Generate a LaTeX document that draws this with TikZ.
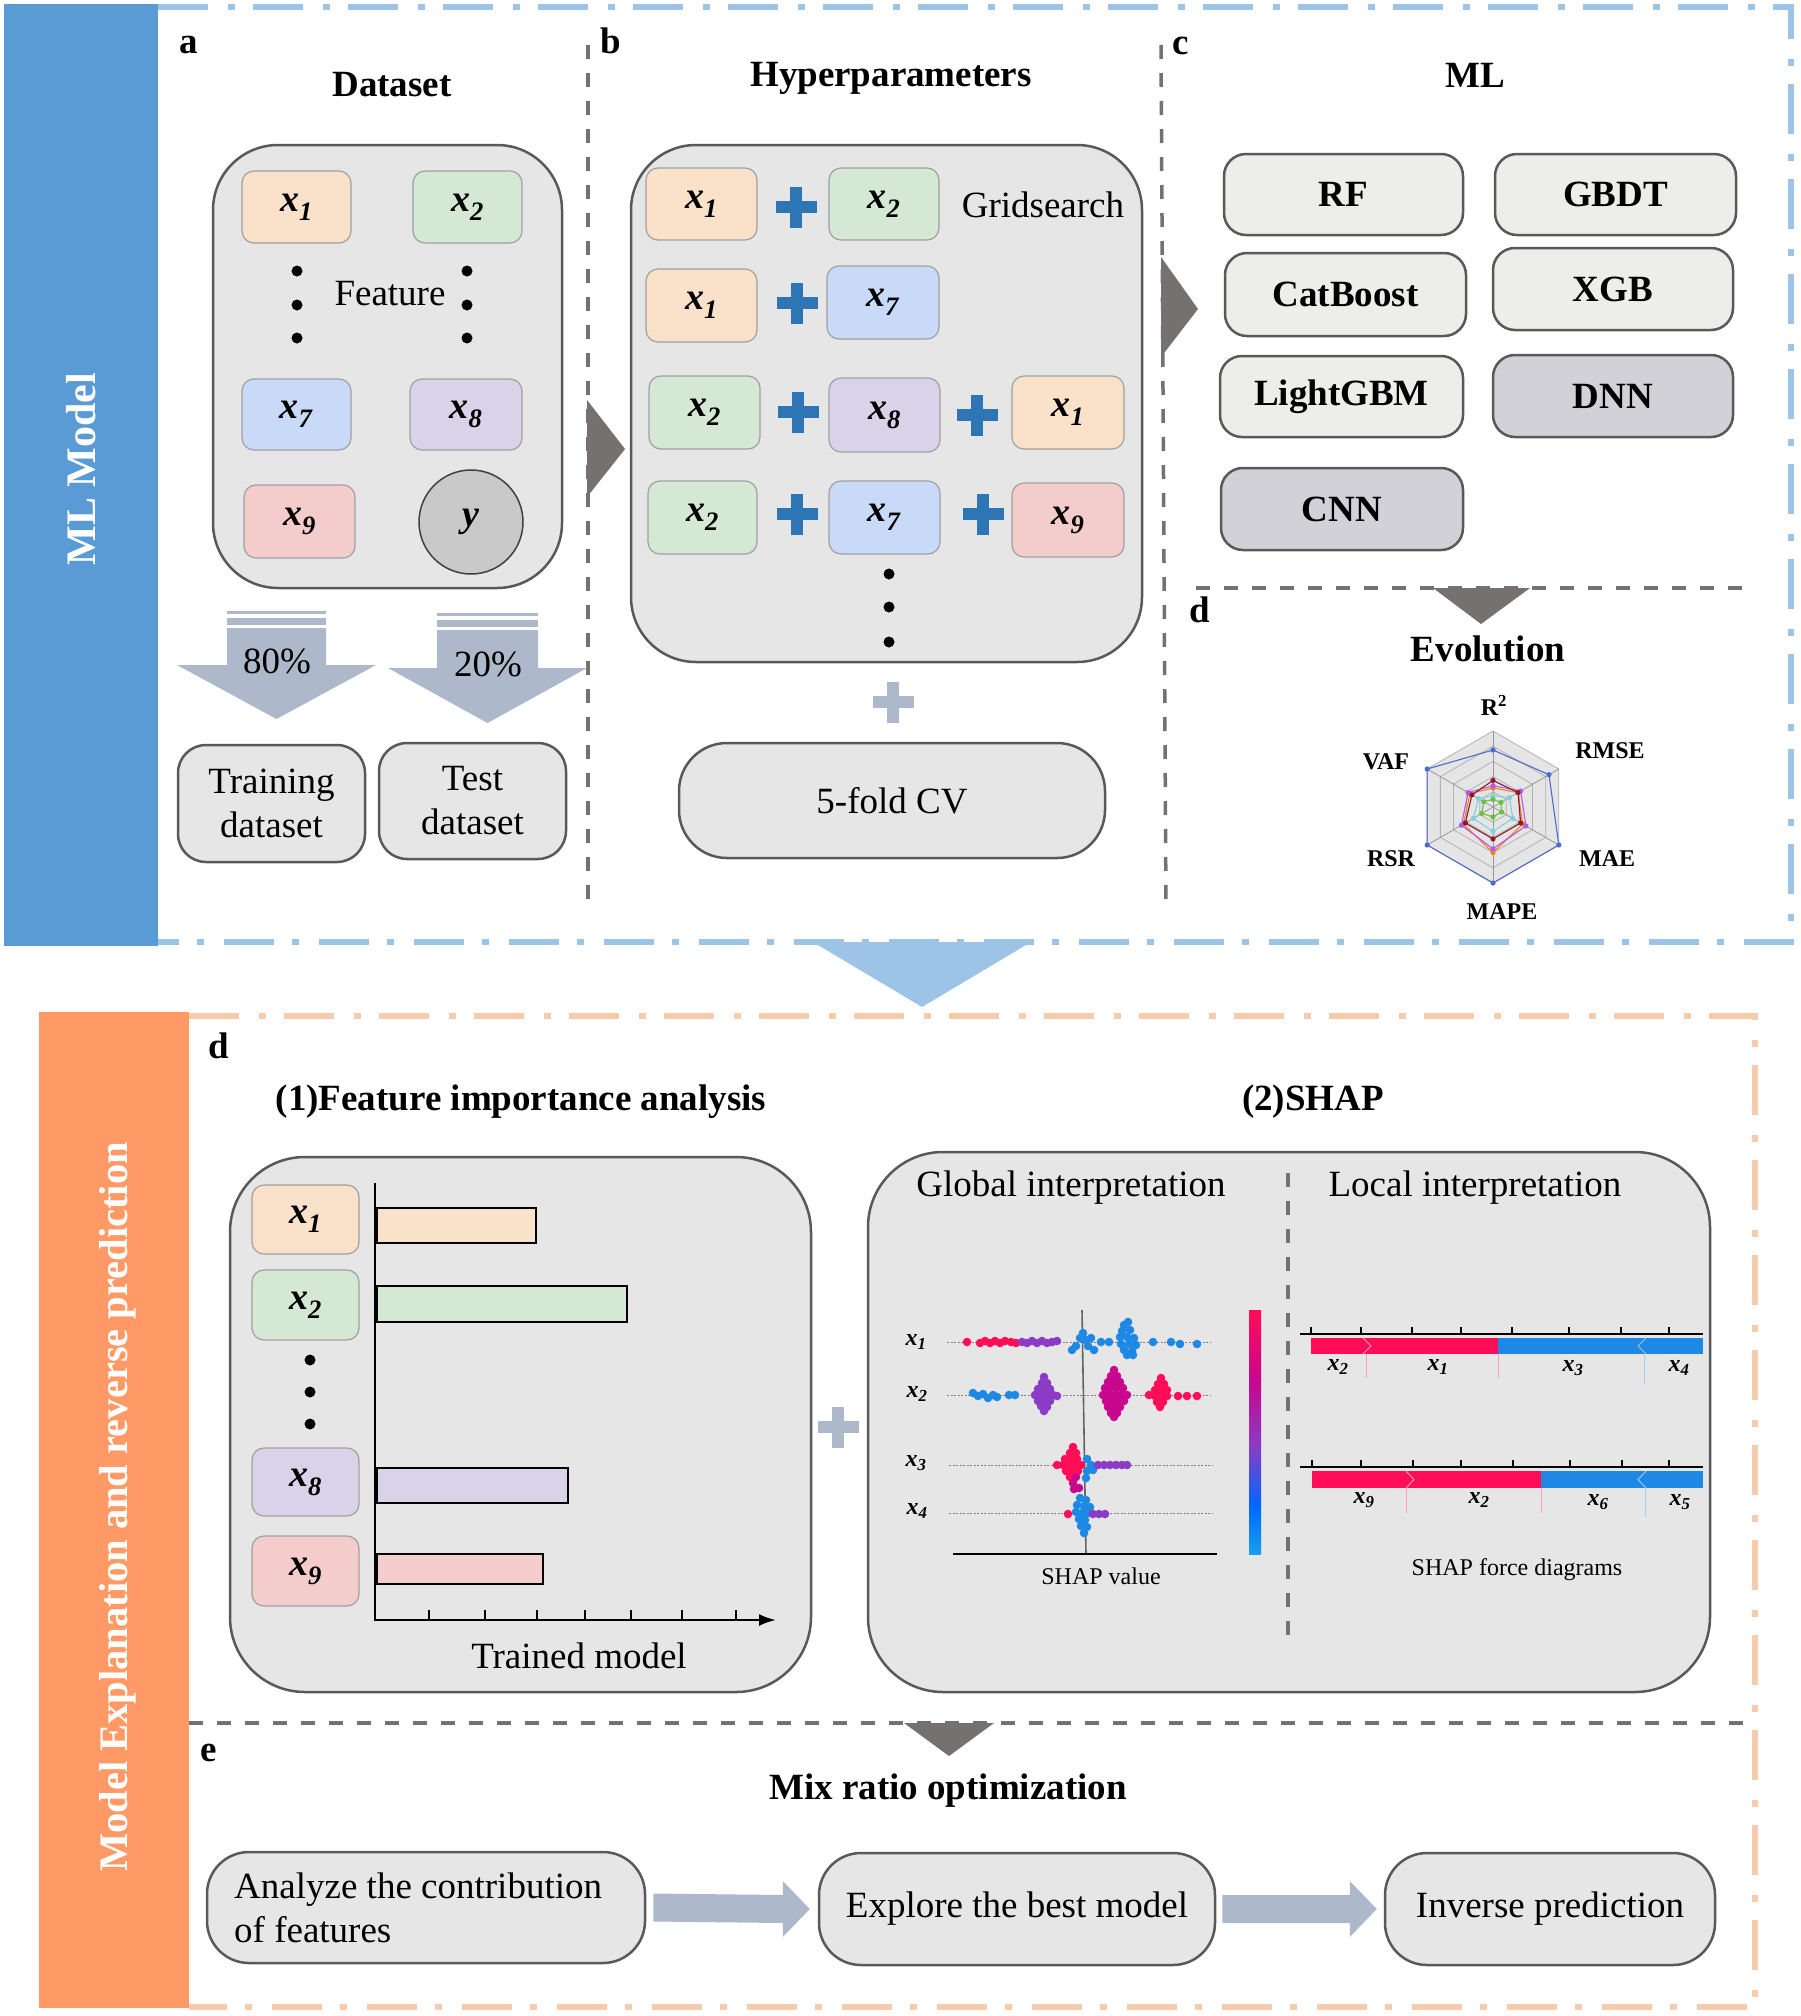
\documentclass[tikz,border=0pt]{standalone}
\usepackage{fontspec}
\setmainfont{Liberation Serif}
\usetikzlibrary{arrows.meta,calc}
\definecolor{mlblue}{HTML}{5B9BD5}
\definecolor{lblue}{HTML}{9DC3E6}
\definecolor{morange}{HTML}{FF9966}
\definecolor{lorange}{HTML}{F8CBAD}
\definecolor{boxgray}{HTML}{E7E6E6}
\definecolor{strokegray}{HTML}{595959}
\definecolor{featline}{HTML}{A0A0A0}
\definecolor{cA}{HTML}{F9E2C9}
\definecolor{cB}{HTML}{D5E8D4}
\definecolor{cG}{HTML}{C9DAF8}
\definecolor{cH}{HTML}{D9D2E9}
\definecolor{cI}{HTML}{F4CCCC}
\definecolor{plusblue}{HTML}{2E75B6}
\definecolor{arrowc}{HTML}{ADB9CA}
\definecolor{divgray}{HTML}{767171}
\definecolor{modlight}{HTML}{EDEDE9}
\definecolor{moddark}{HTML}{D3D1D8}
\definecolor{ycirc}{HTML}{C9C9C9}
\definecolor{shapred}{HTML}{FF0D57}
\definecolor{shapblue}{HTML}{1E88E5}
\definecolor{shapmag}{HTML}{C8068E}
\definecolor{shappur}{HTML}{8A3CC4}
\definecolor{rblue}{HTML}{4F6BC9}
\definecolor{rdred}{HTML}{8B1A2A}
\definecolor{rpurple}{HTML}{B45AE6}
\definecolor{rorange}{HTML}{F08020}
\definecolor{rcyan}{HTML}{7FD1E0}
\definecolor{rgreen}{HTML}{6DBE45}
\newcommand{\xs}[1]{\textbf{\textit{x}}\textsubscript{\textbf{\textit{#1}}}}
\newcommand{\rseries}[7]{%
  \draw[#1, line width=1.1pt] (90:#2*76) -- (30:#3*76) -- (-30:#4*76) -- (-90:#5*76) -- (-150:#6*76) -- (150:#7*76) -- cycle;
  \foreach \a/\v in {90/#2,30/#3,-30/#4,-90/#5,-150/#6,150/#7} \fill[#1] (\a:\v*76) circle (2.6);
}
\begin{document}
\begin{tikzpicture}[x=1pt,y=-1pt]
\tikzset{
 ttl/.style={font=\fontsize{37}{42}\selectfont\bfseries, inner sep=0pt},
 plbl/.style={font=\fontsize{37}{42}\selectfont\bfseries, anchor=base, inner sep=0pt},
 txt/.style={font=\fontsize{37}{44}\selectfont, inner sep=0pt},
 cont/.style={draw=strokegray, fill=boxgray, line width=2.5pt, inner sep=0pt},
 feat/.style={draw=featline, line width=1.2pt, rounded corners=12pt, inner sep=0pt, font=\fontsize{38}{40}\selectfont},
 model/.style={draw=strokegray, line width=2.5pt, rounded corners=22pt, inner sep=0pt, font=\fontsize{37}{40}\selectfont\bfseries},
 pill/.style={draw=strokegray, fill=boxgray, line width=2.5pt, inner sep=0pt, align=center, font=\fontsize{37}{44}\selectfont},
 divider/.style={draw=divgray, line width=3.5pt, dash pattern=on 14pt off 14pt},
 dashdot/.style={line width=6pt, dash pattern=on 50pt off 20pt on 7pt off 18pt},
 bar/.style={draw=black, line width=2.5pt},
 mini/.style={font=\fontsize{24}{26}\selectfont, inner sep=0pt},
 rlab/.style={font=\fontsize{24}{26}\selectfont\bfseries, inner sep=0pt},
 rowline/.style={draw=gray, line width=0.9pt, dash pattern=on 2pt off 1.5pt},
 plusmark/.pic={\fill (-20.5,-6) rectangle (20.5,6); \fill (-6,-20.5) rectangle (6,20.5);},
}
\useasboundingbox (0,0) rectangle (1800,2016);
\fill[white] (0,0) rectangle (1800,2016);

% ================= TOP SECTION =================
\fill[mlblue] (4,4) rectangle (158,946);
\draw[lblue, dashdot] (158,7) -- (1791,7) -- (1791,942) -- (158,942);
\node[rotate=90, text=white, font=\fontsize{42}{46}\selectfont\bfseries] (mltitle) at (81,469) {ML Model};
\fill[lblue] (813,942) -- (1031,942) -- (922,1007) -- cycle;

% dividers
\draw[divider] (588,45) -- (588,904);
\draw[divider] (1161,45) -- (1166,910);
\draw[divider] (1196,588) -- (1755,588);
\fill[divgray] (587,400) -- (625,449) -- (587,497) -- cycle;
\fill[divgray] (1161,257) -- (1198,309) -- (1161,357) -- cycle;
\fill[divgray] (1433,588) -- (1530,588) -- (1481,624) -- cycle;

% ---- a ----
\node[plbl] (la) at (189,53) {a};
\node[ttl] (tds) at (392,85) {Dataset};
\node[cont, rounded corners=65pt, minimum width=349pt, minimum height=443pt] (dsbox) at (387.5,366.5) {};
\node[feat, fill=cA, minimum width=109pt, minimum height=72pt] (a1) at (296.5,207) {\xs{1}};
\node[feat, fill=cB, minimum width=109pt, minimum height=72pt] (a2) at (467.5,207) {\xs{2}};
\node[feat, fill=cG, minimum width=109pt, minimum height=71pt] (a7) at (296.5,414.5) {\xs{7}};
\node[feat, fill=cH, minimum width=112pt, minimum height=71pt] (a8) at (466,414.5) {\xs{8}};
\node[feat, fill=cI, minimum width=111pt, minimum height=73pt] (a9) at (299.5,521.5) {\xs{9}};
\node[circle, draw=black!75, line width=1.5pt, fill=ycirc, minimum size=104pt, inner sep=0pt, font=\fontsize{38}{40}\selectfont] (ay) at (471,522) {\textbf{\textit{y}}};
\node[txt] (feattxt) at (390,294) {Feature};
\foreach \yy in {271,305,338} {\fill (297,\yy) circle (5.5); \fill (467,\yy) circle (5.5);}
% split arrows
\fill[arrowc] (227,611) rectangle (326,614);
\fill[arrowc] (227,618) rectangle (326,625);
\fill[arrowc] (227,628) -- (326,628) -- (326,665) -- (376,665) -- (276.5,719) -- (177,665) -- (227,665) -- cycle;
\node[txt] (p80) at (277,661) {80\%};
\fill[arrowc] (437,613) rectangle (538,616);
\fill[arrowc] (437,620) rectangle (538,627);
\fill[arrowc] (437,630) -- (538,630) -- (538,668) -- (587,668) -- (487.5,723) -- (388,668) -- (437,668) -- cycle;
\node[txt] (p20) at (488,664) {20\%};
\node[pill, rounded corners=28pt, minimum width=187pt, minimum height=117pt] (train) at (271.5,803.5) {Training\\dataset};
\node[pill, rounded corners=28pt, minimum width=187pt, minimum height=116pt] (test) at (472.5,801) {Test\\dataset};

% ---- b ----
\node[plbl] (lb) at (611,53) {b};
\node[ttl] (thp) at (891,78) {Hyperparameters};
\node[cont, rounded corners=65pt, minimum width=511pt, minimum height=517pt] (hpbox) at (886.5,403.5) {};
\node[feat, fill=cA, minimum width=111pt, minimum height=72pt] (b11) at (701.5,204) {\xs{1}};
\pic[fill=plusblue] at (796,207) {plusmark};
\node[feat, fill=cB, minimum width=110pt, minimum height=72pt] (b12) at (884,204) {\xs{2}};
\node[txt] (grid) at (1043,205) {Gridsearch};
\node[feat, fill=cA, minimum width=111pt, minimum height=73pt] (b21) at (701.5,305.5) {\xs{1}};
\pic[fill=plusblue] at (797,303) {plusmark};
\node[feat, fill=cG, minimum width=112pt, minimum height=73pt] (b22) at (883,302.5) {\xs{7}};
\node[feat, fill=cB, minimum width=111pt, minimum height=73pt] (b31) at (704.5,412.5) {\xs{2}};
\pic[fill=plusblue] at (798,412) {plusmark};
\node[feat, fill=cH, minimum width=111pt, minimum height=74pt] (b32) at (884.5,415) {\xs{8}};
\pic[fill=plusblue] at (977,415) {plusmark};
\node[feat, fill=cA, minimum width=112pt, minimum height=73pt] (b33) at (1068,412.5) {\xs{1}};
\node[feat, fill=cB, minimum width=109pt, minimum height=73pt] (b41) at (702.5,517.5) {\xs{2}};
\pic[fill=plusblue] at (797,514) {plusmark};
\node[feat, fill=cG, minimum width=111pt, minimum height=73pt] (b42) at (884.5,517.5) {\xs{7}};
\pic[fill=plusblue] at (983,514) {plusmark};
\node[feat, fill=cI, minimum width=112pt, minimum height=74pt] (b43) at (1068,520) {\xs{9}};
\foreach \yy in {574,607,642} \fill (889,\yy) circle (5.5);
\pic[fill=arrowc] at (893,702) {plusmark};
\node[pill, rounded corners=48pt, minimum width=426pt, minimum height=115pt] (cv) at (892,800.5) {5-fold CV};

% ---- c ----
\node[plbl] (lc) at (1181,54) {c};
\node[ttl] (tml) at (1475,75) {ML};
\node[model, fill=modlight, minimum width=239pt, minimum height=81pt] (rf) at (1343.5,194.5) {RF};
\node[model, fill=modlight, minimum width=241pt, minimum height=81pt] (gbdt) at (1615.5,194.5) {GBDT};
\node[model, fill=modlight, minimum width=241pt, minimum height=83pt] (cat) at (1345.5,294.5) {CatBoost};
\node[model, fill=modlight, minimum width=240pt, minimum height=82pt] (xgb) at (1613,289) {XGB};
\node[model, fill=modlight, minimum width=243pt, minimum height=81pt] (lgbm) at (1341.5,396.5) {LightGBM};
\node[model, fill=moddark, minimum width=240pt, minimum height=82pt] (dnn) at (1613,396) {DNN};
\node[model, fill=moddark, minimum width=242pt, minimum height=82pt] (cnn) at (1342,509) {CNN};

% ---- d (evolution) ----
\node[plbl] (ld1) at (1200,622) {d};
\node[ttl] (tev) at (1488,649) {Evolution};
\begin{scope}[shift={(1493,807)}, yscale=-1]
 \fill[black!10] (90:76) -- (30:76) -- (-30:76) -- (-90:76) -- (-150:76) -- (150:76) -- cycle;
 \foreach \r in {15.2,30.4,45.6,60.8,76}
   \draw[black!30, line width=0.8pt] (90:\r) -- (30:\r) -- (-30:\r) -- (-90:\r) -- (-150:\r) -- (150:\r) -- cycle;
 \foreach \a in {90,30,-30,-90,-150,150} \draw[black!40, line width=0.8pt] (0,0) -- (\a:76);
 \rseries{rblue}{0.75}{0.85}{1}{1}{1}{1}
 \rseries{rorange}{0.25}{0.38}{0.45}{0.6}{0.45}{0.35}
 \rseries{rpurple}{0.28}{0.42}{0.5}{0.55}{0.48}{0.38}
 \rseries{rdred}{0.35}{0.38}{0.42}{0.42}{0.42}{0.32}
 \rseries{rcyan}{0.15}{0.25}{0.3}{0.32}{0.3}{0.22}
 \rseries{rgreen}{0.1}{0.12}{0.13}{0.13}{0.17}{0.14}
\end{scope}
\node[rlab] (r2) at (1494,705) {R\textsuperscript{2}};
\node[rlab] (rmse) at (1610,751) {RMSE};
\node[rlab] (mae) at (1607,859) {MAE};
\node[rlab] (mape) at (1502,912) {MAPE};
\node[rlab] (rsr) at (1391,859) {RSR};
\node[rlab] (vaf) at (1386,762) {VAF};

% ================= BOTTOM SECTION =================
\fill[morange] (39,1012) rectangle (189,2008);
\draw[lorange, dashdot] (189,1016) -- (1755,1016) -- (1755,2007) -- (189,2007);
\node[rotate=90, text=white, font=\fontsize{40.5}{44}\selectfont\bfseries] (metitle) at (118,1507) {Model Explanation and reverse prediction};

\node[plbl] (ld2) at (219,1058) {d};
\node[ttl] (tfi) at (521,1102) {(1)Feature importance analysis};
\node[ttl] (tshap) at (1313,1102) {(2)SHAP};

% feature importance
\node[cont, rounded corners=75pt, minimum width=581pt, minimum height=535pt] (fibox) at (520.5,1424.5) {};
\node[feat, fill=cA, minimum width=107pt, minimum height=69pt] (f1) at (305.5,1219.5) {\xs{1}};
\node[feat, fill=cB, minimum width=107pt, minimum height=70pt] (f2) at (305.5,1305) {\xs{2}};
\node[feat, fill=cH, minimum width=107pt, minimum height=68pt] (f8) at (305.5,1482) {\xs{8}};
\node[feat, fill=cI, minimum width=107pt, minimum height=70pt] (f9) at (305.5,1571) {\xs{9}};
\foreach \yy in {1360,1392,1424} \fill (310,\yy) circle (5.5);
\draw[bar, fill=cA] (377,1208) rectangle (536,1243);
\draw[bar, fill=cB] (377,1286) rectangle (627,1322);
\draw[bar, fill=cH] (377,1468) rectangle (568,1503);
\draw[bar, fill=cI] (377,1554) rectangle (543,1584);
\draw[line width=2.5pt, -{Latex[length=17pt,width=12pt]}] (375,1183) -- (375,1620) -- (776,1620);
\foreach \t in {429,485,537,585,631,682,736} \draw[line width=2pt] (\t,1620) -- (\t,1610);
\node[txt] (trained) at (579,1656) {Trained model};

\pic[fill=arrowc] at (838,1427) {plusmark};

% SHAP
\node[cont, rounded corners=75pt, minimum width=842pt, minimum height=540pt] (shbox) at (1289,1422) {};
\draw[divider] (1288,1173) -- (1288,1648);
\node[txt] (glob) at (1071,1188) {Global interpretation};
\node[txt] (loc) at (1475,1188) {Local interpretation};

% summary plot
\draw[rowline] (947,1342) -- (1211,1342);
\draw[rowline] (947,1395) -- (1211,1395);
\draw[rowline] (949,1465) -- (1213,1465);
\draw[rowline] (949,1513) -- (1213,1513);
\draw[black!60, line width=1.6pt] (1082,1310) -- (1086,1554);
\draw[black, line width=1.8pt] (953,1554) -- (1217,1554);
\node[mini] (sx1) at (916,1342) {\xs{1}};
\node[mini] (sx2) at (917,1394) {\xs{2}};
\node[mini] (sx3) at (916,1463) {\xs{3}};
\node[mini] (sx4) at (917,1511) {\xs{4}};
% x1 row
\foreach \px/\py in {967/1342,980/1343,985/1341,990/1343,995/1341,1000/1343,1005/1341,1011/1342,1016/1343}
  \fill[shapred] (\px,\py) circle (4.3);
\foreach \px/\py in {1022/1342,1027/1343,1032/1341,1037/1343,1042/1341,1047/1343,1052/1342,1057/1341}
  \fill[shappur] (\px,\py) circle (4.3);
\foreach \px/\py in {1072/1350,1076/1346,1080/1338,1083/1333,1086/1340,1088/1346,1091/1338,1094/1350,1101/1342,1109/1342,
  1124/1325,1128/1322,1122/1331,1130/1330,1120/1337,1127/1337,1134/1338,1121/1344,1129/1344,1136/1345,1124/1350,1132/1351,1133/1355,1127/1355,
  1153/1342,1171/1342,1180/1344,1197/1344}
  \fill[shapblue] (\px,\py) circle (4.3);
% x2 row
\foreach \px/\py in {973/1393,978/1396,983/1394,988/1398,993/1395,997/1397,1009/1395,1015/1395}
  \fill[shapblue] (\px,\py) circle (4.3);
\foreach \px/\py in {1044/1377,1042/1383,1047/1383,1038/1389,1044/1389,1050/1389,1035/1395,1041/1395,1047/1395,1053/1395,1057/1396,1038/1401,1044/1401,1050/1401,1041/1406,1047/1407,1044/1411}
  \fill[shappur] (\px,\py) circle (4.3);
\foreach \px/\py in {1114/1370,1111/1376,1117/1376,1108/1382,1114/1382,1120/1382,1105/1388,1111/1388,1117/1388,1123/1388,1103/1395,1109/1395,1115/1395,1121/1395,1127/1395,1106/1401,1112/1401,1118/1401,1124/1401,1108/1407,1114/1407,1120/1407,1111/1413,1117/1413,1114/1417}
  \fill[shapmag] (\px,\py) circle (4.3);
\foreach \px/\py in {1161/1378,1158/1384,1164/1384,1155/1390,1161/1390,1167/1390,1149/1395,1155/1396,1161/1396,1167/1396,1157/1402,1163/1402,1160/1407,1178/1396,1187/1396,1197/1396}
  \fill[shapred] (\px,\py) circle (4.3);
% x3 row
\foreach \px/\py in {1073/1447,1070/1453,1076/1453,1065/1459,1071/1459,1077/1459,1057/1465,1063/1465,1069/1465,1075/1465,1081/1465,1066/1471,1072/1471,1078/1471,1070/1477}
  \fill[shapred] (\px,\py) circle (4.3);
\foreach \px/\py in {1076/1477,1073/1483,1079/1488,1074/1489}
  \fill[shapmag] (\px,\py) circle (4.3);
\foreach \px/\py in {1087/1459,1091/1465,1087/1471,1093/1470,1086/1478}
  \fill[shapblue] (\px,\py) circle (4.3);
\foreach \px in {1098,1104,1110,1116,1122,1127}
  \fill[shappur] (\px,1465) circle (4.3);
% x4 row
\fill[shapred] (1068,1514) circle (4.3);
\foreach \px/\py in {1080/1498,1086/1500,1077/1505,1084/1506,1090/1507,1076/1512,1082/1513,1088/1513,1079/1519,1085/1520,1081/1526,1087/1527,1084/1533}
  \fill[shapblue] (\px,\py) circle (4.3);
\foreach \px in {1093,1099,1105}
  \fill[shappur] (\px,1514) circle (4.3);
\node[mini] (shapval) at (1101,1576) {SHAP value};
% colour bar
\shade[top color=shapred, bottom color=shapmag] (1249,1310) rectangle (1261,1381);
\shade[top color=shapmag, bottom color=shappur] (1249,1380) rectangle (1261,1446);
\shade[top color=shappur, bottom color=blue!60!cyan] (1249,1445) rectangle (1261,1506);
\shade[top color=blue!60!cyan, bottom color=shapblue!80!cyan] (1249,1505) rectangle (1261,1554);

% force plots
\draw[line width=1.4pt] (1300,1334) -- (1703,1334);
\foreach \t in {1311,1361,1412,1461,1512,1569,1621,1669} \draw[line width=1.2pt] (\t,1334) -- (\t,1327);
\fill[shapred] (1311,1338) rectangle (1498,1354);
\fill[shapblue] (1498,1338) rectangle (1703,1354);
\draw[white!55!shapred, line width=1pt] (1363,1338) -- (1371,1346) -- (1363,1354);
\draw[white!55!shapblue, line width=1pt] (1646,1338) -- (1638,1346) -- (1646,1354);
\draw[shapred!40, line width=1pt] (1366,1354) -- (1366,1378);
\draw[shapred!40, line width=1pt] (1498,1354) -- (1498,1378);
\draw[shapblue!40, line width=1pt] (1644,1354) -- (1644,1384);
\node[mini] (fa2) at (1338,1367) {\xs{2}};
\node[mini] (fa1) at (1438,1367) {\xs{1}};
\node[mini] (fa3) at (1573,1368) {\xs{3}};
\node[mini] (fa4) at (1679,1368) {\xs{4}};
\draw[line width=1.4pt] (1300,1467) -- (1703,1467);
\foreach \t in {1312,1361,1413,1461,1513,1570,1622,1669} \draw[line width=1.2pt] (\t,1467) -- (\t,1460);
\fill[shapred] (1312,1471) rectangle (1541,1488);
\fill[shapblue] (1541,1471) rectangle (1703,1488);
\draw[white!55!shapred, line width=1pt] (1406,1471) -- (1414,1479.5) -- (1406,1488);
\draw[white!55!shapblue, line width=1pt] (1646,1471) -- (1638,1479.5) -- (1646,1488);
\draw[shapred!40, line width=1pt] (1406,1488) -- (1406,1513);
\draw[shapred!40, line width=1pt] (1541,1488) -- (1541,1513);
\draw[shapblue!40, line width=1pt] (1645,1488) -- (1645,1517);
\node[mini] (fb9) at (1364,1500) {\xs{9}};
\node[mini] (fb2) at (1479,1500) {\xs{2}};
\node[mini] (fb6) at (1598,1502) {\xs{6}};
\node[mini] (fb5) at (1680,1502) {\xs{5}};
\node[mini] (force) at (1517,1570) {SHAP force diagrams};

% ---- e ----
\draw[divider] (189,1723) -- (1755,1723);
\fill[divgray] (904,1723) -- (994,1723) -- (949,1756) -- cycle;
\node[plbl] (le) at (209,1761) {e};
\node[ttl] (tmix) at (948,1791) {Mix ratio optimization};
\node[pill, rounded corners=42pt, minimum width=438pt, minimum height=111pt] (an) at (426,1907.5) {};
\node[txt, align=left, anchor=west] (antext) at (234,1907.5) {Analyze the contribution\\of features};
\node[pill, rounded corners=42pt, minimum width=396pt, minimum height=112pt] (ex) at (1017,1909) {Explore the best model};
\node[pill, rounded corners=42pt, minimum width=330pt, minimum height=112pt] (ip) at (1550,1909) {Inverse prediction};
\path (an.east) ++(7,0) coordinate (s1) (ex.west) ++(-8,0) coordinate (t1);
\fill[arrowc] ($(s1)+(0,-14)$) -- ($(t1)+(-27,-14)$) -- ($(t1)+(-27,-28)$) -- (t1) -- ($(t1)+(-27,28)$) -- ($(t1)+(-27,14)$) -- ($(s1)+(0,14)$) -- cycle;
\path (ex.east) ++(6,0) coordinate (s2) (ip.west) ++(-7,0) coordinate (t2);
\fill[arrowc] ($(s2)+(0,-14)$) -- ($(t2)+(-27,-14)$) -- ($(t2)+(-27,-28)$) -- (t2) -- ($(t2)+(-27,28)$) -- ($(t2)+(-27,14)$) -- ($(s2)+(0,14)$) -- cycle;
\end{tikzpicture}
\end{document}
